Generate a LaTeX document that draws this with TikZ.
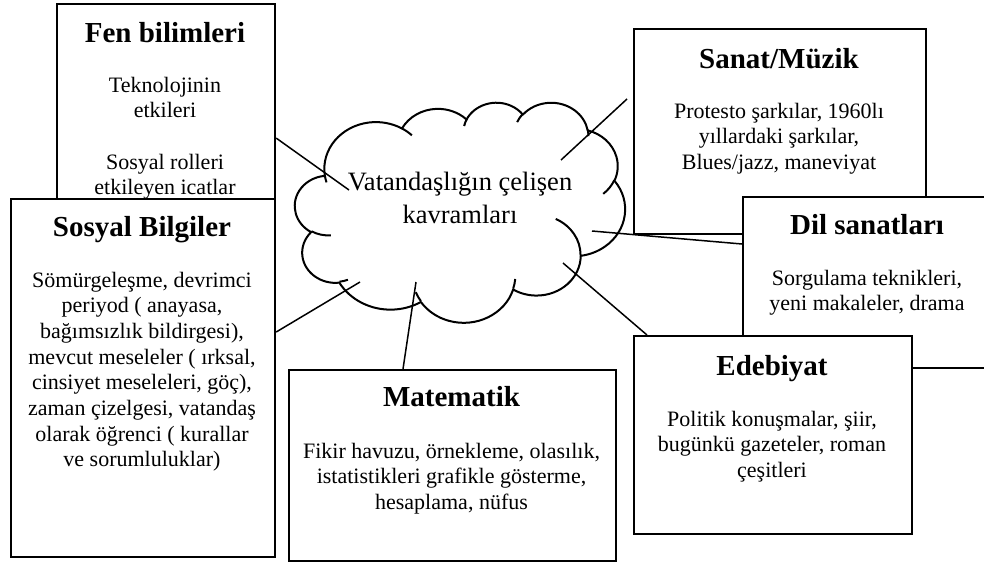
\documentclass[tikz,border=0pt]{standalone}
\usepackage{fontspec}
\setmainfont{Liberation Serif}
\usetikzlibrary{calc}

% centred lines whose baseline is the baseline of the first line
\newcommand\stacklines[1]{\begin{tabular}[t]{@{}c@{}}#1\end{tabular}}

% One elliptic arc of the cloud outline: radii and start/sweep given as
% angles of the ray from the centre; converted here to parametric angles.
\newcommand\cloudseg[5]{%
  \pgfmathsetmacro\cloudTs{atan2((#2)*sin(#4),(#3)*cos(#4))}%
  \pgfmathsetmacro\cloudTe{atan2((#2)*sin((#4)+(#5)),(#3)*cos((#4)+(#5)))}%
  \pgfmathsetmacro\cloudDt{mod(\cloudTe-\cloudTs+720,360)}%
  \edef\cloudtmp{\noexpand\tikzset{#1/.style={start angle=\cloudTs,delta angle=\cloudDt,x radius=#2,y radius=#3}}}%
  \cloudtmp}

% outline
\cloudseg{caA}{67.53}{91.90}{-190.4875}{123.7805}
\cloudseg{caB}{53.33}{72.67}{-144.1024}{89.9452}
\cloudseg{caC}{43.65}{59.45}{-145.8079}{99.7230}
\cloudseg{caD}{48.57}{65.95}{-130.9861}{117.2417}
\cloudseg{caE}{53.33}{72.73}{-78.7089}{109.0269}
\cloudseg{caF}{67.75}{92.20}{-46.2673}{130.2690}
\cloudseg{caG}{57.85}{78.67}{0.6250}{114.0333}
\cloudseg{caH}{67.52}{92.15}{22.4516}{115.1726}
\cloudseg{caI}{77.20}{105.43}{66.2426}{75.7110}
\cloudseg{caJ}{43.60}{59.18}{-274.9421}{146.7356}
\cloudseg{caK}{43.45}{59.45}{-246.8285}{152.5189}
% inner strokes
\cloudseg{ciA}{43.45}{59.45}{86.7420}{26.4295}
\cloudseg{ciB}{43.60}{59.18}{73.6105}{11.4475}
\cloudseg{ciC}{67.52}{92.15}{137.6242}{14.0811}
\cloudseg{ciD}{67.52}{92.15}{6.4533}{15.9984}
\cloudseg{ciE}{57.85}{78.67}{-70.2924}{70.9174}
\cloudseg{ciF}{53.33}{72.73}{30.3180}{27.7515}
\cloudseg{ciG}{48.57}{65.95}{-13.7443}{14.8589}
\cloudseg{ciH}{48.57}{65.95}{-149.1815}{18.1954}
\cloudseg{ciI}{43.65}{59.45}{-163.4943}{17.6864}
\cloudseg{ciJ}{67.53}{91.90}{-66.7070}{12.3194}
\cloudseg{ciK}{67.53}{91.90}{157.6544}{11.8582}

\tikzset{
  box/.style={draw, line width=2.2pt, fill=white, inner sep=0pt, anchor=north west},
  ttl/.style={font=\fontsize{29}{34}\selectfont\bfseries, anchor=base, inner sep=0pt},
  body/.style={font=\fontsize{22}{25.7}\selectfont, anchor=base, inner sep=0pt},
  centre/.style={font=\fontsize{26.5}{33.5}\selectfont, anchor=base, inner sep=0pt},
  link/.style={line width=1.5pt},
  cloudline/.style={line width=2pt, line join=round},
}

\begin{document}
\begin{tikzpicture}[x=1pt,y=-1pt]
\useasboundingbox (0,0) rectangle (984,563);

% cloud
\begin{scope}[xshift=295pt,yshift=-102pt,x=0.7639pt,y=-0.5093pt]
  \draw[cloudline] (39.00,143.70) arc[caA] arc[caB] arc[caC] arc[caD] arc[caE]
    arc[caF] arc[caG] arc[caH] arc[caI] arc[caJ] arc[caK] -- cycle;
  \draw[cloudline] (46.93,261.77) arc[ciA];
  \draw[cloudline] (69.28,348.99) arc[ciB];
  \draw[cloudline] (164.78,390.90) arc[ciC];
  \draw[cloudline] (288.27,347.51) arc[ciD];
  \draw[cloudline] (341.29,229.54) arc[ciE];
  \draw[cloudline] (417.98,153.54) arc[ciF];
  \draw[cloudline] (383.24,54.26) arc[ciG];
  \draw[cloudline] (290.78,39.52) arc[ciH];
  \draw[cloudline] (221.41,47.20) arc[ciI];
  \draw[cloudline] (140.00,51.92) arc[ciJ];
  \draw[cloudline] (41.27,157.89) arc[ciK];
\end{scope}
\node[centre] (idea) at (460,190) {\stacklines{Vatandaşlığın çelişen\\kavramları}};

% inner ends of the connectors
\coordinate (cFen) at (349,190);
\coordinate (cSanat) at (561,160);
\coordinate (cDil) at (592,231);
\coordinate (cEdeb) at (563,263);
\coordinate (cMat) at (416,282);
\coordinate (cSos) at (360,282);

% Fen bilimleri
\node[box, minimum width=218pt, minimum height=268pt] (fen) at (56,3) {};
\node[ttl] (fenT) at (165,42) {Fen bilimleri};
\node[body] (fenB) at (165,92) {\stacklines{Teknolojinin\\etkileri\\ \\Sosyal rolleri\\etkileyen icatlar}};
\draw[link] (fen.east) -- (cFen);

% Sosyal Bilgiler
\node[box, minimum width=264pt, minimum height=358pt] (sos) at (10,198) {};
\node[ttl] (sosT) at (142,236) {Sosyal Bilgiler};
\node[body] (sosB) at (142,287) {\stacklines{Sömürgeleşme, devrimci\\periyod ( anayasa,\\bağımsızlık bildirgesi),\\mevcut meseleler ( ırksal,\\cinsiyet meseleleri, göç),\\zaman çizelgesi, vatandaş\\olarak öğrenci ( kurallar\\ve sorumluluklar)}};
\draw[link] ([yshift=-134pt]sos.north east) -- (cSos);

% Matematik
\node[box, minimum width=327pt, minimum height=191pt] (mat) at (288,369) {};
\node[ttl] (matT) at (451.5,406) {Matematik};
\node[body] (matB) at (451.5,458) {\stacklines{Fikir havuzu, örnekleme, olasılık,\\istatistikleri grafikle gösterme,\\hesaplama, nüfus}};
\draw[link] ([xshift=115pt]mat.north west) -- (cMat);

% Sanat/Müzik
\node[box, minimum width=292pt, minimum height=205pt] (sanat) at (633,28) {};
\node[ttl] (sanatT) at (779,68) {Sanat/Müzik};
\node[body] (sanatB) at (779,118) {\stacklines{Protesto şarkılar, 1960lı\\yıllardaki şarkılar,\\Blues/jazz, maneviyat}};
\draw[link] ([xshift=-6pt,yshift=-71pt]sanat.north west) -- (cSanat);

% Dil sanatları
\node[box, minimum width=250pt, minimum height=171pt] (dil) at (742,196) {};
\node[ttl] (dilT) at (867,234) {Dil sanatları};
\node[body] (dilB) at (867,285) {\stacklines{Sorgulama teknikleri,\\yeni makaleler, drama}};
\draw[link] ([yshift=-48pt]dil.north west) -- (cDil);

% Edebiyat
\node[box, minimum width=278pt, minimum height=198pt] (edeb) at (633,335) {};
\node[ttl] (edebT) at (772,375) {Edebiyat};
\node[body] (edebB) at (772,426) {\stacklines{Politik konuşmalar, şiir,\\bugünkü gazeteler, roman\\çeşitleri}};
\draw[link] ([xshift=14pt]edeb.north west) -- (cEdeb);
\end{tikzpicture}
\end{document}
